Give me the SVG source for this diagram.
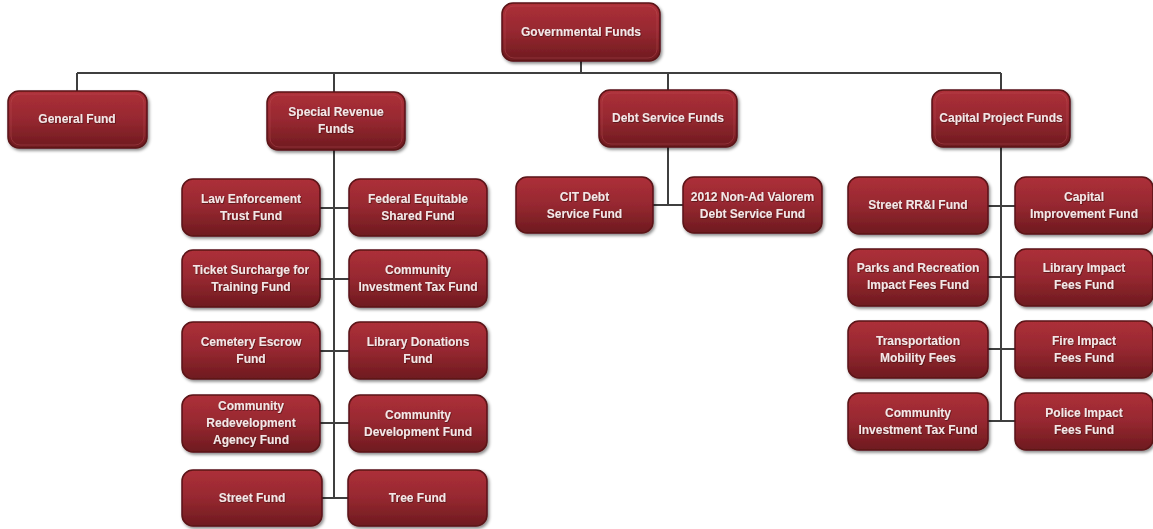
<svg xmlns="http://www.w3.org/2000/svg" width="1153" height="529" viewBox="0 0 1153 529">
<defs>
<linearGradient id="g" x1="0" y1="0" x2="0" y2="1">
<stop offset="0" stop-color="#ad3039"/>
<stop offset="0.5" stop-color="#962830"/>
<stop offset="1" stop-color="#6e1a1f"/>
</linearGradient>
<filter id="sh" x="-10%" y="-10%" width="125%" height="130%">
<feDropShadow dx="1.5" dy="2" stdDeviation="1.5" flood-color="#000" flood-opacity="0.45"/>
</filter>
<filter id="ts" x="-5%" y="-20%" width="110%" height="150%">
<feDropShadow dx="0.6" dy="0.8" stdDeviation="0.4" flood-color="#3a0a0c" flood-opacity="0.8"/>
</filter>
</defs>
<style>
.box{fill:url(#g);stroke:#5a1317;stroke-width:1.5;filter:url(#sh)}
.inner{fill:none;stroke:#c4585f;stroke-opacity:0.35;stroke-width:1}
.t{font-family:"Liberation Sans",Arial,sans-serif;font-weight:bold;font-size:12px;fill:#f5e6e6;text-anchor:middle;filter:url(#ts)}
.c{stroke:#3f3f3f;stroke-width:2;fill:none}
</style>
<rect width="1153" height="529" fill="#ffffff"/>
<g id="connectors">
<path class="c" d="M581 61V73M77 73H1001M77 73V91M334 73V92M668 73V90M1001 73V90"/>
<path class="c" d="M334 150V498M320 208H349M320 279H349M320 351H349M320 423H349M322 498H348"/>
<path class="c" d="M668 147V205M653 205H683"/>
<path class="c" d="M1001 147V421M988 206H1015M988 277H1015M988 349H1015M988 421H1015"/>
</g>
<g id="governmental-funds"><rect class="box" x="502" y="3" width="158" height="58" rx="11"/><rect class="inner" x="505" y="6" width="152" height="52" rx="9"/><text class="t" x="581" y="36">Governmental Funds</text></g>
<g id="general-fund"><rect class="box" x="8" y="91" width="139" height="57" rx="11"/><rect class="inner" x="11" y="94" width="133" height="51" rx="9"/><text class="t" x="77" y="123">General Fund</text></g>
<g id="special-revenue-funds"><rect class="box" x="267" y="92" width="138" height="58" rx="11"/><rect class="inner" x="270" y="95" width="132" height="52" rx="9"/><text class="t" x="336" y="116">Special Revenue</text><text class="t" x="336" y="133">Funds</text></g>
<g id="debt-service-funds"><rect class="box" x="599" y="90" width="138" height="57" rx="11"/><rect class="inner" x="602" y="93" width="132" height="51" rx="9"/><text class="t" x="668" y="122">Debt Service Funds</text></g>
<g id="capital-project-funds"><rect class="box" x="932" y="90" width="138" height="57" rx="11"/><rect class="inner" x="935" y="93" width="132" height="51" rx="9"/><text class="t" x="1001" y="122">Capital Project Funds</text></g>

<g id="cit-debt"><rect class="box" x="516" y="177" width="137" height="56" rx="11"/><text class="t" x="584.5" y="201">CIT Debt</text><text class="t" x="584.5" y="218">Service Fund</text></g>
<g id="non-ad-valorem"><rect class="box" x="683" y="177" width="139" height="56" rx="11"/><text class="t" x="752.5" y="201">2012 Non-Ad Valorem</text><text class="t" x="752.5" y="218">Debt Service Fund</text></g>

<g id="law-enforcement"><rect class="box" x="182" y="179" width="138" height="57" rx="11"/><text class="t" x="251" y="203">Law Enforcement</text><text class="t" x="251" y="220">Trust Fund</text></g>
<g id="federal-equitable"><rect class="box" x="349" y="179" width="138" height="57" rx="11"/><text class="t" x="418" y="203">Federal Equitable</text><text class="t" x="418" y="220">Shared Fund</text></g>
<g id="ticket-surcharge"><rect class="box" x="182" y="250" width="138" height="57" rx="11"/><text class="t" x="251" y="274">Ticket Surcharge for</text><text class="t" x="251" y="291">Training Fund</text></g>
<g id="community-investment-tax-sr"><rect class="box" x="349" y="250" width="138" height="57" rx="11"/><text class="t" x="418" y="274">Community</text><text class="t" x="418" y="291">Investment Tax Fund</text></g>
<g id="cemetery-escrow"><rect class="box" x="182" y="322" width="138" height="57" rx="11"/><text class="t" x="251" y="346">Cemetery Escrow</text><text class="t" x="251" y="363">Fund</text></g>
<g id="library-donations"><rect class="box" x="349" y="322" width="138" height="57" rx="11"/><text class="t" x="418" y="346">Library Donations</text><text class="t" x="418" y="363">Fund</text></g>
<g id="community-redevelopment"><rect class="box" x="182" y="395" width="138" height="57" rx="11"/><text class="t" x="251" y="410">Community</text><text class="t" x="251" y="427">Redevelopment</text><text class="t" x="251" y="444">Agency Fund</text></g>
<g id="community-development"><rect class="box" x="349" y="395" width="138" height="57" rx="11"/><text class="t" x="418" y="419">Community</text><text class="t" x="418" y="436">Development Fund</text></g>
<g id="street-fund"><rect class="box" x="182" y="470" width="140" height="56" rx="11"/><text class="t" x="252" y="502">Street Fund</text></g>
<g id="tree-fund"><rect class="box" x="348" y="470" width="139" height="56" rx="11"/><text class="t" x="417.5" y="502">Tree Fund</text></g>

<g id="street-rri"><rect class="box" x="848" y="177" width="140" height="57" rx="11"/><text class="t" x="918" y="209">Street RR&amp;I Fund</text></g>
<g id="capital-improvement"><rect class="box" x="1015" y="177" width="138" height="57" rx="11"/><text class="t" x="1084" y="201">Capital</text><text class="t" x="1084" y="218">Improvement Fund</text></g>
<g id="parks-recreation"><rect class="box" x="848" y="249" width="140" height="57" rx="11"/><text class="t" x="918" y="272">Parks and Recreation</text><text class="t" x="918" y="289">Impact Fees Fund</text></g>
<g id="library-impact"><rect class="box" x="1015" y="249" width="138" height="57" rx="11"/><text class="t" x="1084" y="272">Library Impact</text><text class="t" x="1084" y="289">Fees Fund</text></g>
<g id="transportation-mobility"><rect class="box" x="848" y="321" width="140" height="57" rx="11"/><text class="t" x="918" y="345">Transportation</text><text class="t" x="918" y="362">Mobility Fees</text></g>
<g id="fire-impact"><rect class="box" x="1015" y="321" width="138" height="57" rx="11"/><text class="t" x="1084" y="345">Fire Impact</text><text class="t" x="1084" y="362">Fees Fund</text></g>
<g id="community-investment-tax-cp"><rect class="box" x="848" y="393" width="140" height="57" rx="11"/><text class="t" x="918" y="417">Community</text><text class="t" x="918" y="434">Investment Tax Fund</text></g>
<g id="police-impact"><rect class="box" x="1015" y="393" width="138" height="57" rx="11"/><text class="t" x="1084" y="417">Police Impact</text><text class="t" x="1084" y="434">Fees Fund</text></g>
</svg>
